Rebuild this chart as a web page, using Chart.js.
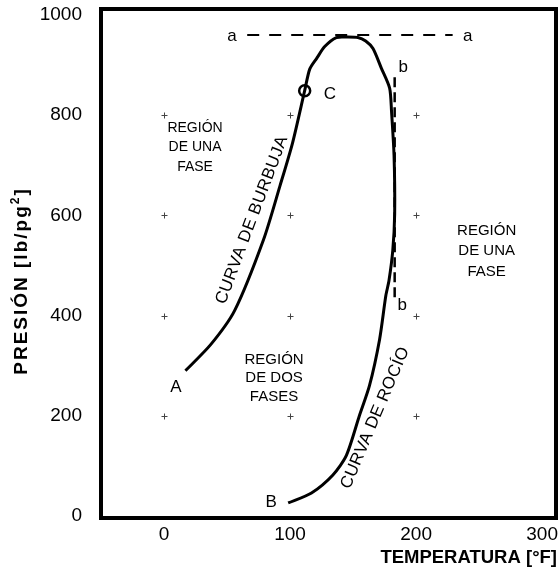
<!DOCTYPE html>
<html>
<head>
<meta charset="utf-8">
<script src="https://cdn.jsdelivr.net/npm/chart.js@4.4.0/dist/chart.umd.min.js"></script>
<style>
  html, body { margin: 0; padding: 0; background: #fff; }
  #wrap { width: 560px; height: 572px; position: relative; }
</style>
</head>
<body>
<div id="wrap"><canvas id="pt"></canvas></div>
<script>
// phase envelope, from A (bubble point side) over the top down to B (dew point side)
const envTemp = [17, 37, 56, 79, 92, 102, 111.6, 115.6, 121, 127.5, 136.7, 145, 153.8, 160, 165.8, 172.4, 179, 180.5, 182.5, 183, 181.5, 178.5, 176, 171, 163, 155, 144.7, 134, 117, 98.5];
const envPres = [290, 342, 410, 552, 659, 745, 849, 892, 913, 937, 955, 956, 955, 948, 933, 894, 854, 808, 720, 603, 530, 470, 440, 352, 260, 200, 121, 82, 46, 26];

// critical point C
const critTemp = [111.6];
const critPres = [849];

// isobaric line a-a and isothermal line b-b
const isoATemp = [66, 229];
const isoAPres = [960, 960];
const isoBTemp = [183, 183];
const isoBPres = [876, 432];

const xTicks = [0, 100, 200, 300];
const yTicks = [0, 200, 400, 600, 800, 1000];
const gridX = [0, 100, 200];
const gridY = [200, 400, 600, 800];

const FONT = 'Liberation Sans, Arial, sans-serif';

// text placed on the plot, in data units
const notes = [
    { lines: ['a'], x: 54, y: 958, size: 17 },
    { lines: ['a'], x: 241, y: 958, size: 17 },
    { lines: ['b'], x: 189.7, y: 896, size: 17 },
    { lines: ['b'], x: 189, y: 421, size: 17 },
    { lines: ['C'], x: 131.7, y: 842, size: 17 },
    { lines: ['A'], x: 9.5, y: 257, size: 17 },
    { lines: ['B'], x: 85, y: 28, size: 17 },
    { lines: ['REGIÓN', 'DE UNA', 'FASE'], x: 24.6, y: 736, size: 14, lh: 19.5 },
    { lines: ['REGIÓN', 'DE UNA', 'FASE'], x: 256, y: 529, size: 15, lh: 20.5 },
    { lines: ['REGIÓN', 'DE DOS', 'FASES'], x: 87.3, y: 275, size: 15, lh: 18.5 }
];
const curveNotes = [
    { text: 'CURVA DE BURBUJA', x: 69.8, y: 591, angle: -69.4, size: 17, len: 178 },
    { text: 'CURVA DE ROCÍO', x: 167.5, y: 196, angle: -67, size: 17, len: 152 }
];

function pts(xs, ys) {
    return xs.map((x, i) => ({ x: x, y: ys[i] }));
}

function spacedText(ctx, text, len) {
    ctx.letterSpacing = '0px';
    const w = ctx.measureText(text).width;
    const sp = Math.max(0, (len - w) / (text.length - 1));
    ctx.letterSpacing = sp + 'px';
    return sp;
}

const decor = {
    id: 'decor',
    afterDatasetsDraw(chart) {
        const ctx = chart.ctx;
        const xs = chart.scales.x, ys = chart.scales.y;
        const a = chart.chartArea;
        ctx.save();

        // faint grid crosses
        ctx.strokeStyle = '#444';
        ctx.lineWidth = 1;
        gridX.forEach(gx => {
            gridY.forEach(gy => {
                const px = Math.round(xs.getPixelForValue(gx)) + 0.5;
                const py = Math.round(ys.getPixelForValue(gy)) + 0.5;
                ctx.beginPath();
                ctx.moveTo(px - 3, py); ctx.lineTo(px + 3, py);
                ctx.moveTo(px, py - 3); ctx.lineTo(px, py + 3);
                ctx.stroke();
            });
        });

        // plot frame
        ctx.strokeStyle = '#000';
        ctx.lineWidth = 4;
        ctx.strokeRect(a.left, a.top, a.right - a.left, a.bottom - a.top);

        // labels inside the plot
        ctx.fillStyle = '#000';
        ctx.textAlign = 'center';
        ctx.textBaseline = 'middle';
        notes.forEach(n => {
            ctx.font = n.size + 'px ' + FONT;
            const px = xs.getPixelForValue(n.x);
            const py = ys.getPixelForValue(n.y);
            const lh = n.lh || n.size;
            const y0 = py - (n.lines.length - 1) * lh / 2;
            n.lines.forEach((t, i) => ctx.fillText(t, px, y0 + i * lh));
        });

        curveNotes.forEach(n => {
            ctx.save();
            ctx.font = n.size + 'px ' + FONT;
            spacedText(ctx, n.text, n.len);
            ctx.translate(xs.getPixelForValue(n.x), ys.getPixelForValue(n.y));
            ctx.rotate(n.angle * Math.PI / 180);
            ctx.fillText(n.text, 0, 0);
            ctx.restore();
        });
        ctx.letterSpacing = '0px';

        // axis titles
        ctx.font = 'bold 18.5px ' + FONT;
        ctx.textAlign = 'right';
        ctx.fillText('TEMPERATURA [°F]', 557, 558);

        ctx.save();
        ctx.translate(22, 281);
        ctx.rotate(-Math.PI / 2);
        ctx.font = 'bold 19px ' + FONT;
        const main = 'PRESIÓN [lb/pg';
        ctx.letterSpacing = '2px';
        const w1 = ctx.measureText(main).width;
        const w3 = ctx.measureText(']').width;
        ctx.font = 'bold 12px ' + FONT;
        const w2 = ctx.measureText('2').width;
        const total = w1 + w2 + w3;
        let x0 = -total / 2;
        ctx.textAlign = 'left';
        ctx.font = 'bold 19px ' + FONT;
        ctx.fillText(main, x0, 0);
        ctx.font = 'bold 12px ' + FONT;
        ctx.fillText('2', x0 + w1, -6);
        ctx.font = 'bold 19px ' + FONT;
        ctx.fillText(']', x0 + w1 + w2, 0);
        ctx.restore();

        ctx.restore();
    }
};

new Chart(document.getElementById('pt'), {
    type: 'scatter',
    data: {
        datasets: [
            {
                data: pts(envTemp, envPres),
                showLine: true,
                borderColor: '#000',
                borderWidth: 3,
                tension: 0.25,
                pointRadius: 0
            },
            {
                data: pts(isoATemp, isoAPres),
                showLine: true,
                borderColor: '#000',
                borderWidth: 2,
                borderDash: [12, 10],
                pointRadius: 0
            },
            {
                data: pts(isoBTemp, isoBPres),
                showLine: true,
                borderColor: '#000',
                borderWidth: 2.5,
                borderDash: [10, 5],
                pointRadius: 0
            },
            {
                data: pts(critTemp, critPres),
                pointRadius: 5.5,
                pointBorderWidth: 2.5,
                pointBackgroundColor: '#fff',
                pointBorderColor: '#000'
            }
        ]
    },
    options: {
        responsive: true,
        maintainAspectRatio: false,
        animation: false,
        layout: { autoPadding: false, padding: { top: 9, right: 4, left: 0, bottom: 0 } },
        plugins: {
            legend: { display: false },
            tooltip: { enabled: false }
        },
        scales: {
            x: {
                type: 'linear',
                min: -50,
                max: 311,
                afterBuildTicks: s => { s.ticks = xTicks.map(v => ({ value: v })); },
                afterFit: s => { s.height = 54; s.paddingLeft = 0; s.paddingRight = 0; },
                grid: { display: false, drawTicks: false },
                border: { display: false },
                ticks: { color: '#000', font: { family: FONT, size: 19 }, padding: 5, maxRotation: 0, callback: v => String(v) }
            },
            y: {
                type: 'linear',
                min: -4,
                max: 1012,
                afterBuildTicks: s => { s.ticks = yTicks.map(v => ({ value: v })); },
                afterFit: s => { s.width = 101; s.paddingTop = 0; s.paddingBottom = 0; },
                grid: { display: false, drawTicks: false },
                border: { display: false },
                ticks: { color: '#000', font: { family: FONT, size: 19 }, padding: 19, callback: v => String(v) }
            }
        }
    },
    plugins: [decor]
});
</script>
</body>
</html>
